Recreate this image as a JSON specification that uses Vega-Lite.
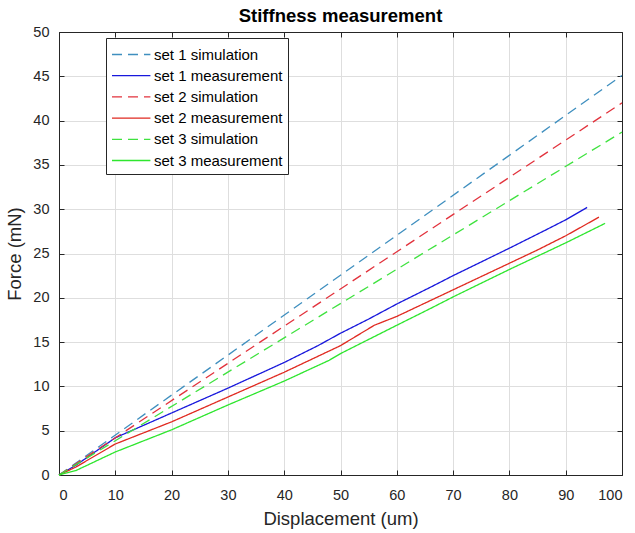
{
  "$schema": "https://vega.github.io/schema/vega-lite/v6.json",
  "width": 563,
  "height": 443,
  "autosize": "none",
  "padding": {"left": 59, "top": 32, "right": 13, "bottom": 58},
  "background": "white",
  "title": {"text": "Stiffness measurement", "fontSize": 18.5, "font": "Liberation Sans", "fontWeight": "bold", "color": "#000000", "offset": -1, "anchor": "middle"},
  "data": {"values": [
    {"series": "set 1 simulation", "x": 0, "y": 0},
    {"series": "set 1 simulation", "x": 100, "y": 45.1},
    {"series": "set 1 measurement", "x": 0, "y": 0},
    {"series": "set 1 measurement", "x": 3, "y": 1.1},
    {"series": "set 1 measurement", "x": 10, "y": 4.2},
    {"series": "set 1 measurement", "x": 20, "y": 7.0},
    {"series": "set 1 measurement", "x": 30, "y": 9.8},
    {"series": "set 1 measurement", "x": 40, "y": 12.7},
    {"series": "set 1 measurement", "x": 46, "y": 14.6},
    {"series": "set 1 measurement", "x": 50, "y": 16.0},
    {"series": "set 1 measurement", "x": 55, "y": 17.6},
    {"series": "set 1 measurement", "x": 60, "y": 19.3},
    {"series": "set 1 measurement", "x": 66, "y": 21.2},
    {"series": "set 1 measurement", "x": 70, "y": 22.5},
    {"series": "set 1 measurement", "x": 80, "y": 25.6},
    {"series": "set 1 measurement", "x": 86.6, "y": 27.7},
    {"series": "set 1 measurement", "x": 90, "y": 28.8},
    {"series": "set 1 measurement", "x": 93.8, "y": 30.2},
    {"series": "set 2 simulation", "x": 0, "y": 0},
    {"series": "set 2 simulation", "x": 100, "y": 42.0},
    {"series": "set 2 measurement", "x": 0, "y": 0},
    {"series": "set 2 measurement", "x": 3, "y": 0.9},
    {"series": "set 2 measurement", "x": 10, "y": 3.5},
    {"series": "set 2 measurement", "x": 20, "y": 6.0},
    {"series": "set 2 measurement", "x": 30, "y": 8.8},
    {"series": "set 2 measurement", "x": 40, "y": 11.6},
    {"series": "set 2 measurement", "x": 50, "y": 14.6},
    {"series": "set 2 measurement", "x": 56, "y": 16.9},
    {"series": "set 2 measurement", "x": 60, "y": 17.9},
    {"series": "set 2 measurement", "x": 66, "y": 19.7},
    {"series": "set 2 measurement", "x": 70, "y": 20.9},
    {"series": "set 2 measurement", "x": 80, "y": 23.9},
    {"series": "set 2 measurement", "x": 85, "y": 25.4},
    {"series": "set 2 measurement", "x": 90, "y": 27.0},
    {"series": "set 2 measurement", "x": 95.9, "y": 29.1},
    {"series": "set 3 simulation", "x": 0, "y": 0},
    {"series": "set 3 simulation", "x": 100, "y": 38.7},
    {"series": "set 3 measurement", "x": 0, "y": 0},
    {"series": "set 3 measurement", "x": 3, "y": 0.5},
    {"series": "set 3 measurement", "x": 10, "y": 2.6},
    {"series": "set 3 measurement", "x": 20, "y": 5.1},
    {"series": "set 3 measurement", "x": 30, "y": 7.9},
    {"series": "set 3 measurement", "x": 40, "y": 10.6},
    {"series": "set 3 measurement", "x": 48, "y": 12.95},
    {"series": "set 3 measurement", "x": 50, "y": 13.7},
    {"series": "set 3 measurement", "x": 60, "y": 16.9},
    {"series": "set 3 measurement", "x": 66, "y": 18.8},
    {"series": "set 3 measurement", "x": 70, "y": 20.1},
    {"series": "set 3 measurement", "x": 80, "y": 23.2},
    {"series": "set 3 measurement", "x": 90, "y": 26.2},
    {"series": "set 3 measurement", "x": 97, "y": 28.4}
  ]},
  "layer": [
    {
      "mark": {"type": "line", "strokeWidth": 1.3},
      "encoding": {
        "x": {"field": "x", "type": "quantitative", "scale": {"domain": [0, 100], "nice": false},
          "axis": {"title": "Displacement (um)", "values": [0,10,20,30,40,50,60,70,80,90,100], "grid": true, "labelPadding": 18, "titlePadding": 8}},
        "y": {"field": "y", "type": "quantitative", "scale": {"domain": [0, 50], "nice": false},
          "axis": {"title": "Force (mN)", "values": [0,5,10,15,20,25,30,35,40,45,50], "grid": true, "labelPadding": 15, "titlePadding": 8}},
        "color": {"field": "series", "type": "nominal",
          "scale": {"domain": ["set 1 simulation", "set 1 measurement", "set 2 simulation", "set 2 measurement", "set 3 simulation", "set 3 measurement"],
                    "range": ["#3f8fbf", "#1818dc", "#e2323c", "#e02a20", "#3fe23f", "#2ee62e"]},
          "legend": {"orient": "none", "legendX": 47, "legendY": 6, "title": null, "strokeColor": "#262626", "fillColor": "white", "padding": 5,
                     "symbolType": "M-1,0H2.657", "symbolSize": 441, "symbolStrokeWidth": 1.3, "labelFontSize": 15, "labelFont": "Liberation Sans", "labelColor": "#000000",
                     "labelOffset": 20, "rowPadding": 1.2,
                     "encode": {"symbols": {"update": {"strokeDash": {"signal": "test(/simulation/, datum.value) ? [13, 8] : [1, 0]"}}}}}},
        "strokeDash": {"field": "series", "type": "nominal",
          "scale": {"domain": ["set 1 simulation", "set 1 measurement", "set 2 simulation", "set 2 measurement", "set 3 simulation", "set 3 measurement"],
                    "range": [[10, 6], [1, 0], [10, 6], [1, 0], [10, 6], [1, 0]]},
          "legend": {"orient": "none", "legendX": 47, "legendY": 6, "title": null, "strokeColor": "#262626", "fillColor": "white", "padding": 5,
                     "symbolType": "M-1,0H2.657", "symbolSize": 441, "symbolStrokeWidth": 1.3, "labelFontSize": 15, "labelFont": "Liberation Sans", "labelColor": "#000000",
                     "labelOffset": 20, "rowPadding": 1.2}}
      }
    },
    {
      "mark": {"type": "point", "opacity": 0},
      "encoding": {
        "x": {"field": "x", "type": "quantitative", "scale": {"domain": [0, 100], "nice": false},
          "axis": {"orient": "top", "title": null, "labels": false, "grid": false, "values": [0,10,20,30,40,50,60,70,80,90,100]}},
        "y": {"field": "y", "type": "quantitative", "scale": {"domain": [0, 50], "nice": false},
          "axis": {"orient": "right", "title": null, "labels": false, "grid": false, "values": [0,5,10,15,20,25,30,35,40,45,50]}}
      }
    }
  ],
  "resolve": {"axis": {"x": "independent", "y": "independent"}},
  "config": {
    "view": {"stroke": "#262626", "strokeWidth": 1},
    "axis": {"gridColor": "#dedede", "gridWidth": 1, "domainColor": "#262626", "tickColor": "#262626", "tickSize": -5,
             "labelFont": "Liberation Sans", "titleFont": "Liberation Sans", "labelFontSize": 14.5, "titleFontSize": 18.5,
             "titleFontWeight": "normal", "labelColor": "#262626", "titleColor": "#262626"}
  }
}
